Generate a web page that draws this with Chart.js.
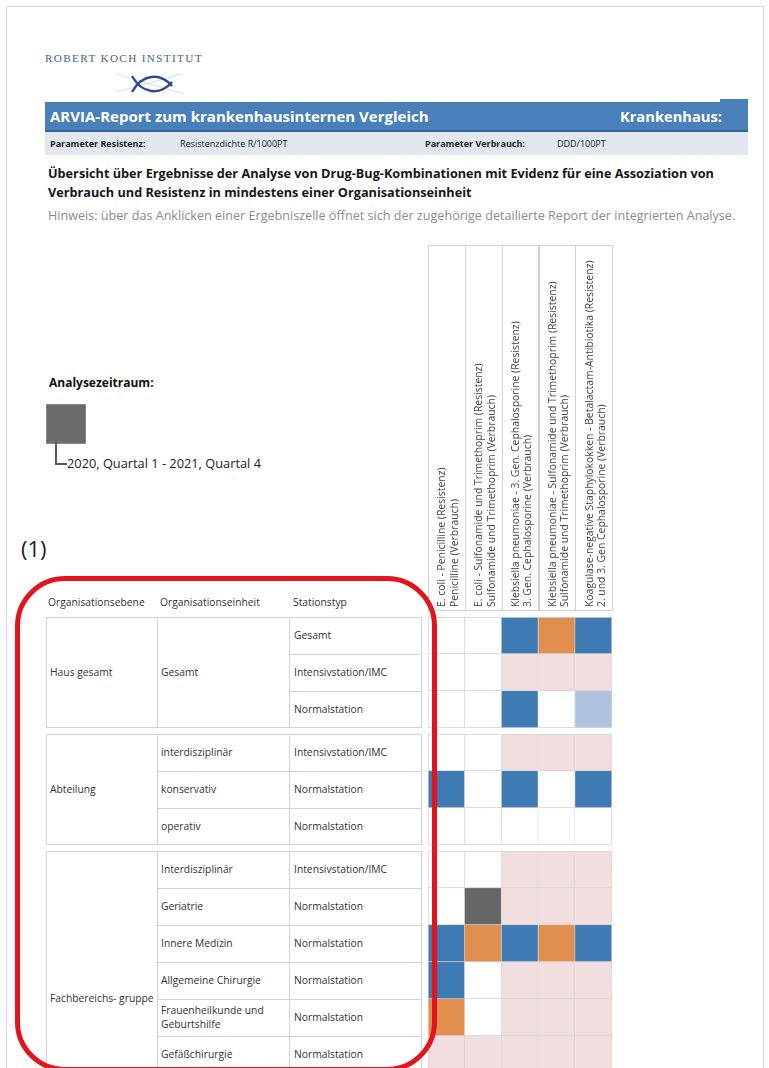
<!DOCTYPE html>
<html>
<head>
<meta charset="utf-8">
<script src="https://cdn.jsdelivr.net/npm/chart.js@4.4.0/dist/chart.umd.min.js"></script>
<style>
html,body{margin:0;padding:0;background:#fff;}
body{width:769px;height:1068px;position:relative;overflow:hidden;font-family:'Open Sans',sans-serif;color:#222;}
.abs{position:absolute;white-space:nowrap;}
.mid{position:absolute;display:flex;align-items:center;}
.line{position:absolute;background:#d3d3d3;}
</style>
</head>
<body>

<!-- page frame -->
<div class="abs" style="left:6px;top:6px;width:756px;height:1100px;border:1px solid #d9d9d9;"></div>

<!-- logo -->
<div class="abs" style="left:45px;top:52px;font-family:'Liberation Serif',serif;font-size:11.2px;letter-spacing:1.35px;color:#4a5f8c;">ROBERT KOCH INSTITUT</div>
<svg class="abs" style="left:112px;top:66px" width="80" height="34" viewBox="0 0 80 34">
  <path d="M4,26 L70,8" stroke="#d6dbe6" stroke-width="1" fill="none"/>
  <path d="M4,8 L72,28" stroke="#d6dbe6" stroke-width="1" fill="none"/>
  <path d="M20,26 C30,8 48,6 60,20" stroke="#2f4b8c" stroke-width="2.4" fill="none"/>
  <path d="M20,10 C30,28 48,30 60,16" stroke="#2f4b8c" stroke-width="2.4" fill="none"/>
</svg>

<!-- header bar -->
<div class="abs" style="left:45px;top:102px;width:703px;height:28px;background:#4a80ba;border-bottom:2px solid #36679c;"></div>
<div class="abs" style="left:720px;top:99px;width:28px;height:4px;background:#4a80ba;"></div>
<div class="mid" style="left:50px;top:102px;height:28px;font-size:15px;font-weight:700;color:#fff;white-space:nowrap;">ARVIA-Report zum krankenhausinternen Vergleich</div>
<div class="mid" style="left:600px;width:122px;justify-content:flex-end;top:102px;height:28px;font-size:14.7px;font-weight:700;color:#fff;white-space:nowrap;">Krankenhaus:</div>

<!-- parameter row -->
<div class="abs" style="left:45px;top:132px;width:703px;height:23px;background:#e3e8f0;"></div>
<div class="mid" style="left:50px;top:132px;height:23px;font-size:9px;font-weight:700;color:#222;white-space:nowrap;">Parameter Resistenz:</div>
<div class="mid" style="left:180px;top:132px;height:23px;font-size:9px;color:#222;white-space:nowrap;">Resistenzdichte R/1000PT</div>
<div class="mid" style="left:425px;top:132px;height:23px;font-size:9px;font-weight:700;color:#222;white-space:nowrap;">Parameter Verbrauch:</div>
<div class="mid" style="left:557px;top:132px;height:23px;font-size:9px;color:#222;white-space:nowrap;">DDD/100PT</div>

<!-- title -->
<div class="abs" style="left:48px;top:164px;font-size:12.7px;font-weight:700;line-height:19px;color:#161616;">Übersicht über Ergebnisse der Analyse von Drug-Bug-Kombinationen mit Evidenz für eine Assoziation von<br>Verbrauch und Resistenz in mindestens einer Organisationseinheit</div>
<div class="abs" style="left:48px;top:206px;font-size:12.6px;line-height:19px;color:#8c8c8c;">Hinweis: über das Anklicken einer Ergebniszelle öffnet sich der zugehörige detailierte Report der integrierten Analyse.</div>

<!-- analysis period legend -->
<div class="abs" style="left:49px;top:374px;font-size:12px;font-weight:700;color:#111;">Analysezeitraum:</div>
<div class="abs" style="left:46px;top:404px;width:38px;height:38px;background:#6b6b6b;border:1px solid #8a8a8a;"></div>
<div class="abs" style="left:55px;top:443px;width:2px;height:22px;background:#5a5a5a;"></div>
<div class="abs" style="left:55px;top:463px;width:12px;height:2px;background:#5a5a5a;"></div>
<div class="abs" style="left:67px;top:454px;font-size:12.8px;color:#222;">2020, Quartal 1 - 2021, Quartal 4</div>

<div class="abs" style="left:21px;top:533px;font-size:22px;color:#222;">(1)</div>

<div id="table"></div>

<div class="abs" style="left:427px;top:240px;width:186px;height:833px;">
  <canvas id="grid" width="186" height="833"></canvas>
</div>

<!-- red highlight -->
<div class="abs" style="left:15px;top:576px;width:412px;height:486px;border:5px solid #e3141c;border-radius:50px;z-index:5;pointer-events:none;"></div>

<script>
// ─── DATA ─────────────────────────────────────────────────────────────────────
const orgLevels = ['Haus gesamt', 'Abteilung', 'Fachbereichs- gruppe'];
const groupRows = [3, 3, 6];          // rows visible per level
const groupSpan = [3, 3, 8];          // rows of the level in the full report (label centred on it)
const orgUnits = ['Gesamt', 'Gesamt', 'Gesamt',
  'interdisziplinär', 'konservativ', 'operativ',
  'Interdisziplinär', 'Geriatrie', 'Innere Medizin', 'Allgemeine Chirurgie',
  'Frauenheilkunde und Geburtshilfe', 'Gefäßchirurgie'];
const stationTypes = ['Gesamt', 'Intensivstation/IMC', 'Normalstation',
  'Intensivstation/IMC', 'Normalstation', 'Normalstation',
  'Intensivstation/IMC', 'Normalstation', 'Normalstation', 'Normalstation',
  'Normalstation', 'Normalstation'];
const colLabels = [
  ['E. coli - Penicilline (Resistenz)', 'Penicilline (Verbrauch)'],
  ['E. coli - Sulfonamide und Trimethoprim (Resistenz)', 'Sulfonamide und Trimethoprim (Verbrauch)'],
  ['Klebsiella pneumoniae - 3. Gen. Cephalosporine (Resistenz)', '3. Gen. Cephalosporine (Verbrauch)'],
  ['Klebsiella pneumoniae - Sulfonamide und Trimethoprim (Resistenz)', 'Sulfonamide und Trimethoprim (Verbrauch)'],
  ['Koagulase-negative Staphylokokken - Betalactam-Antibiotika (Resistenz)', '2. und 3. Gen Cephalosporine (Verbrauch)']
];
// B = blau, O = orange, P = rosa, L = hellblau, G = grau, W = weiß
const cellStatus = [
  ['W','W','B','O','B'],
  ['W','W','P','P','P'],
  ['W','W','B','W','L'],
  ['W','W','P','P','P'],
  ['B','W','B','W','B'],
  ['W','W','W','W','W'],
  ['W','W','P','P','P'],
  ['W','G','P','P','P'],
  ['B','O','B','O','B'],
  ['B','W','P','P','P'],
  ['O','W','P','P','P'],
  ['P','P','P','P','P']
];
const palette = {B:'#3e7ab3', O:'#e18f4f', P:'#f1dfdf', L:'#aec4de', G:'#676767', W:'#ffffff'};

// ─── LAYOUT ───────────────────────────────────────────────────────────────────
const ROW_H = 37, GAP = 6, TOP = 617;
const rowGroup = [], firstInGroup = [];
groupRows.forEach((n, g) => { for (let i = 0; i < n; i++) { rowGroup.push(g); firstInGroup.push(i === 0); } });
const rowY = r => TOP + r * ROW_H + rowGroup[r] * GAP;

// ─── LEFT TABLE ───────────────────────────────────────────────────────────────
const X0 = 46, X1 = 157, X2 = 289, X3 = 422;
let html = '';
const txt = (x, y, w, h, s, extra='') =>
  `<div class="mid" style="left:${x}px;top:${y}px;width:${w}px;height:${h}px;font-size:10.3px;color:#333;line-height:1.3;${extra}">${s}</div>`;
html += txt(48, 593, 110, 20, 'Organisationsebene');
html += txt(160, 593, 130, 20, 'Organisationseinheit');
html += txt(293, 593, 130, 20, 'Stationstyp');
let r0 = 0;
groupRows.forEach((n, g) => {
  const y0 = rowY(r0), h = groupSpan[g] * ROW_H;
  html += `<div class="abs" style="left:${X0}px;top:${y0}px;width:${X3-X0}px;height:${h}px;border:1px solid #d3d3d3;box-sizing:border-box;"></div>`;
  html += `<div class="line" style="left:${X1}px;top:${y0}px;width:1px;height:${h}px"></div>`;
  html += `<div class="line" style="left:${X2}px;top:${y0}px;width:1px;height:${h}px"></div>`;
  html += txt(X0 + 4, y0, X1 - X0 - 6, h, orgLevels[g]);
  let u = r0;
  for (let r = r0; r < r0 + n; r++) {
    const y = rowY(r);
    if (r > r0) html += `<div class="line" style="left:${X2}px;top:${y}px;width:${X3-X2}px;height:1px"></div>`;
    html += txt(X2 + 5, y, X3 - X2 - 8, ROW_H, stationTypes[r]);
    const last = r === r0 + n - 1 || orgUnits[r + 1] !== orgUnits[r];
    if (last) {
      if (u > r0) html += `<div class="line" style="left:${X1}px;top:${rowY(u)}px;width:${X2-X1}px;height:1px"></div>`;
      html += txt(X1 + 4, rowY(u), X2 - X1 - 8, rowY(r) + ROW_H - rowY(u), orgUnits[u], 'white-space:normal;');
      u = r + 1;
    }
  }
  r0 += n;
});
document.getElementById('table').innerHTML = html;

// ─── HEATMAP ──────────────────────────────────────────────────────────────────
const gapU = GAP / ROW_H;
const datasets = cellStatus.map((row, r) => {
  const t = r + rowGroup[r] * gapU;
  return {
    label: stationTypes[r],
    data: row.map(() => [t, t + 1]),
    backgroundColor: row.map(c => palette[c]),
    borderColor: '#d8d2d2',
    borderWidth: c => ({left: c.dataIndex === 0 ? 1 : 0, top: firstInGroup[r] ? 1 : 0, right: 1, bottom: 1}),
    borderSkipped: false,
    grouped: false,
    barPercentage: 1,
    categoryPercentage: 1
  };
});

const headerBoxes = {
  id: 'headerBoxes',
  beforeDraw(chart) {
    const xs = chart.scales.x, ctx = chart.ctx;
    const w = xs.width / colLabels.length;
    ctx.save();
    ctx.strokeStyle = '#d2d2d2';
    ctx.lineWidth = 1;
    colLabels.forEach((_, i) => {
      const cx = xs.getPixelForValue(i);
      ctx.strokeRect(Math.round(cx - w / 2) + 0.5, xs.top + 5.5, Math.round(w), xs.bottom - xs.top - 12);
    });
    ctx.restore();
  }
};

new Chart(document.getElementById('grid'), {
  type: 'bar',
  data: {labels: colLabels, datasets},
  options: {
    responsive: false, animation: false,
    layout: {padding: {left: 1, right: 1}},
    plugins: {legend: {display: false}, tooltip: {enabled: false}},
    scales: {
      x: {
        position: 'top', offset: true,
        grid: {display: false, drawTicks: false}, border: {display: false},
        ticks: {autoSkip: false, minRotation: 90, maxRotation: 90, padding: 10, labelOffset: 21,
          color: '#444', font: {family: 'Open Sans', size: 10.4, lineHeight: 1.2}},
        afterFit: s => { s.height = 377; s.paddingLeft = 0; s.paddingRight = 0; }
      },
      y: {type: 'linear', reverse: true, min: 0, max: cellStatus.length + (groupRows.length - 1) * gapU, display: false}
    }
  },
  plugins: [headerBoxes]
});
</script>
</body>
</html>
